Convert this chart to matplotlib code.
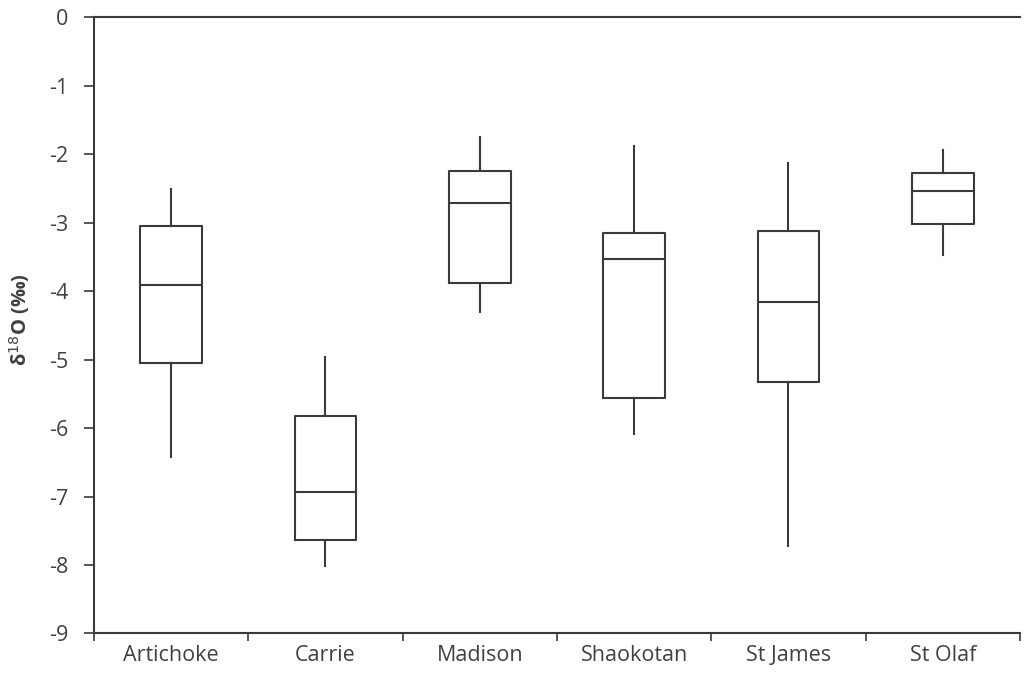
import matplotlib.pyplot as plt
from matplotlib.ticker import FixedLocator

plt.rcParams['font.family'] = ['Open Sans', 'DejaVu Sans']
plt.rcParams['axes.unicode_minus'] = False

sites = ['Artichoke', 'Carrie', 'Madison', 'Shaokotan', 'St James', 'St Olaf']
whislo = [-6.42, -8.01, -4.30, -6.09, -7.72, -3.47]
q1 = [-5.05, -7.63, -3.88, -5.56, -5.33, -3.02]
med = [-3.91, -6.93, -2.71, -3.53, -4.16, -2.54]
q3 = [-3.04, -5.82, -2.24, -3.15, -3.12, -2.27]
whishi = [-2.50, -4.96, -1.75, -1.88, -2.13, -1.94]

stats = []
for i in range(len(sites)):
    stats.append({'label': sites[i], 'whislo': whislo[i], 'q1': q1[i], 'med': med[i],
                  'q3': q3[i], 'whishi': whishi[i], 'fliers': []})

ink = '#3a3a3a'
fig = plt.figure(figsize=(10.26, 6.83), dpi=100)
ax = fig.add_axes([0.0916, 0.0725, 0.9024, 0.9019])

pos = list(range(1, len(sites) + 1))
ax.bxp(stats, positions=pos, widths=0.4, showcaps=False, showfliers=False,
       boxprops=dict(color=ink, linewidth=1.5),
       whiskerprops=dict(color=ink, linewidth=1.5),
       medianprops=dict(color=ink, linewidth=1.5))

ax.set_xlim(0.5, len(sites) + 0.5)
ax.set_ylim(-9, 0)
ax.set_yticks(range(-9, 1))
ax.xaxis.set_major_locator(FixedLocator([p - 0.5 for p in pos] + [len(sites) + 0.5]))
ax.xaxis.set_minor_locator(FixedLocator(pos))
ax.set_xticklabels([])
ax.set_xticklabels(sites, minor=True)
ax.tick_params(axis='x', which='major', length=6, width=1.2, color=ink)
ax.tick_params(axis='x', which='minor', length=0, pad=8, labelsize=15.5, labelcolor='#404040')
ax.tick_params(axis='y', length=7.5, width=1.2, color=ink, labelsize=15.5, labelcolor='#404040', pad=11)

ax.spines['right'].set_visible(False)
for s in ['left', 'top', 'bottom']:
    ax.spines[s].set_color(ink)
    ax.spines[s].set_linewidth(1.5)

ax.set_ylabel('δ$^{18}$O (‰)', fontsize=14.5, fontweight='bold', color='#404040')
ax.yaxis.set_label_coords(-0.067, 0.51)

fig.savefig('out.png', dpi=100)
